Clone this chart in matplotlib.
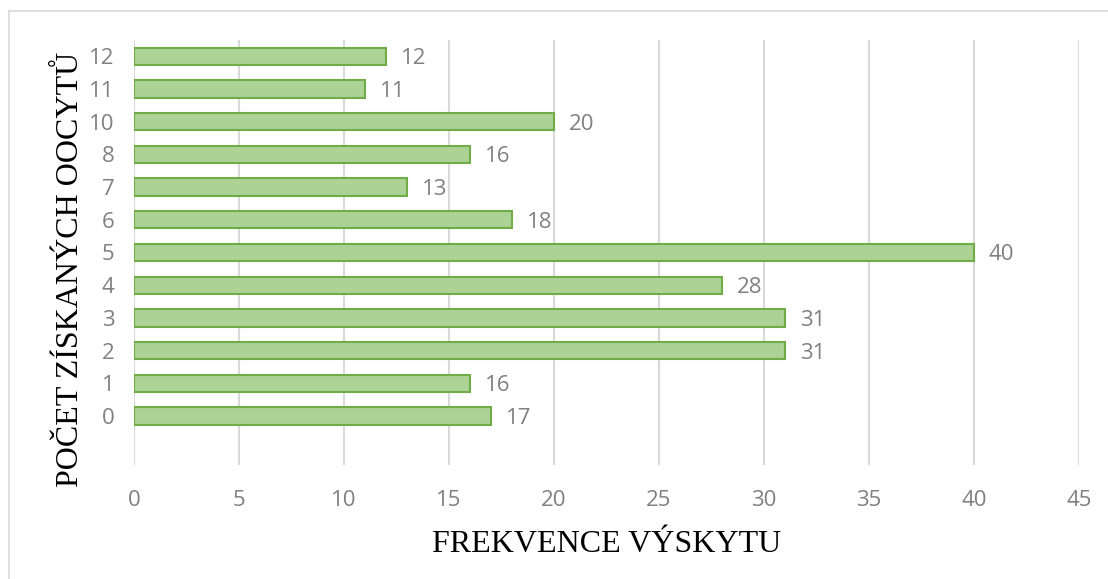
import matplotlib.pyplot as plt
from matplotlib.lines import Line2D
from matplotlib.transforms import ScaledTranslation

categories = ["0", "1", "2", "3", "4", "5", "6", "7", "8", "10", "11", "12"]
values = [17, 16, 31, 31, 28, 40, 18, 13, 16, 20, 11, 12]
x_ticks = list(range(0, 46, 5))

fig = plt.figure(figsize=(11.08, 5.79), dpi=100)
ax = fig.add_axes([134 / 1108, (579 - 465) / 579, (1079 - 134) / 1108, (465 - 40) / 579])

pos = list(range(len(categories)))
ax.barh(pos, values, height=0.53, color="#acd296", edgecolor="#70ad47", linewidth=1.5, zorder=3)

shift_down = ScaledTranslation(0, -2.5 / 100, fig.dpi_scale_trans)
for p, v in zip(pos, values):
    ax.text(v + 0.7, p, str(v), va="center", ha="left", fontsize=16,
            color="#808080", family="Open Sans", transform=ax.transData + shift_down)

ax.set_xlim(0, 45)
ax.set_ylim(-1.5, len(categories) - 0.5)
ax.set_xticks(x_ticks)
ax.set_xticklabels([str(t) for t in x_ticks], fontsize=16, color="#808080", family="Open Sans")
ax.set_yticks(pos)
ax.set_yticklabels(categories, fontsize=16, color="#808080", family="Open Sans")
for lbl in ax.get_yticklabels():
    lbl.set_transform(lbl.get_transform() + shift_down)
ax.tick_params(length=0, pad=14)
ax.tick_params(axis="x", pad=18)

ax.grid(axis="x", color="#d9d9d9", linewidth=1.5, zorder=0)
for s in ax.spines.values():
    s.set_visible(False)

ax.set_xlabel("FREKVENCE VÝSKYTU", family="Liberation Serif", fontsize=23, labelpad=14)
ax.set_ylabel("POČET ZÍSKANÝCH OOCYTŮ", family="Liberation Serif", fontsize=23)
ax.yaxis.set_label_coords(-0.052, 0.46)

# chart frame (top and left edges visible in the crop)
fig.add_artist(Line2D([9 / 1108, 9 / 1108], [0, 1 - 11 / 579], transform=fig.transFigure,
                      color="#d9d9d9", linewidth=1.2))
fig.add_artist(Line2D([9 / 1108, 1], [1 - 11 / 579, 1 - 11 / 579], transform=fig.transFigure,
                      color="#d9d9d9", linewidth=1.2))

fig.savefig("out.png", dpi=100)
